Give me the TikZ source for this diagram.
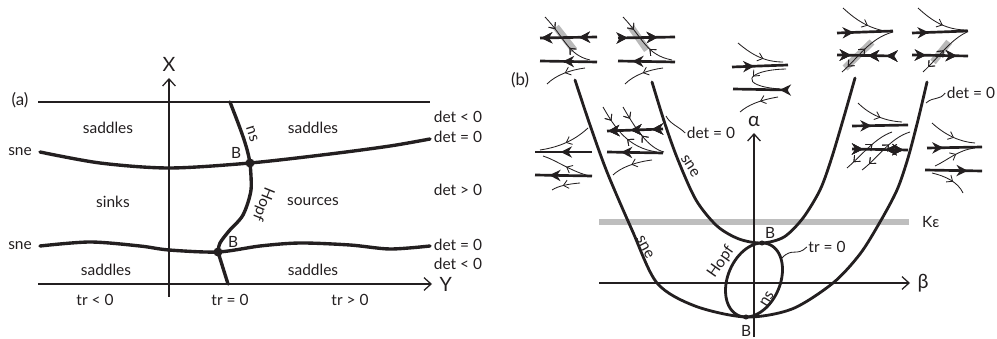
\documentclass[tikz,border=0pt]{standalone}
\usepackage{fontspec}
\setmainfont{Lato}
\usetikzlibrary{arrows.meta,decorations.markings}
\definecolor{cInk}{RGB}{35,31,32}
\definecolor{cBand}{RGB}{190,190,190}
\definecolor{cHalo}{RGB}{185,185,185}
\tikzset{
  lbl/.style={font=\fontsize{11}{13}\selectfont, text=cInk, inner sep=1pt},
  big/.style={font=\fontsize{14}{16}\selectfont, text=cInk, inner sep=1pt},
  ax/.style={line width=0.9pt, draw=cInk},
  axarr/.style={ax, -{Straight Barb[length=5pt,width=9pt]}},
  crv/.style={line width=2.4pt, draw=cInk, line cap=round},
  crvb/.style={line width=2pt, draw=cInk, line cap=round},
  flw/.style={line width=1.9pt, draw=cInk},
  trj/.style={line width=0.6pt, draw=cInk},
  halo/.style={line width=5pt, draw=cHalo},
  fa/.style={postaction={decorate},decoration={markings,mark=at position #1 with {\arrow{Stealth[length=8pt,width=8pt,inset=2.5pt]}}}},
  fb/.style={postaction={decorate},decoration={markings,mark=at position #1 with {\arrowreversed{Stealth[length=8pt,width=8pt,inset=2.5pt]}}}},
  ta/.style={postaction={decorate},decoration={markings,mark=at position #1 with {\arrow{Straight Barb[length=3.5pt,width=6pt]}}}},
  tb/.style={postaction={decorate},decoration={markings,mark=at position #1 with {\arrowreversed{Straight Barb[length=3.5pt,width=6pt]}}}},
}
\begin{document}
\begin{tikzpicture}[x=0.025cm, y=-0.025cm]
  \useasboundingbox (0,0) rectangle (997,339);
  %%% (a)
  \node[lbl, font=\fontsize{12}{14}\selectfont] (tagA) at (20,100) {(a)};
  % Axes
  \draw[ax] (38,102) -- (430,102);
  \draw[axarr] (38,284) -- (432,284) node[big, right=4pt] (Ylab) {Y};
  \draw[axarr] (169,297) -- (169,78) node[big, above=3pt] (Xlab) {X};
  % Bifurcation curves
  \coordinate (B1) at (250,163);
  \coordinate (B2) at (218,252);
  \draw[crv] plot[smooth] coordinates {(40,152) (100,163) (169,168) (B1) (330,154) (390,146) (430,139)};
  \draw[crv] plot[smooth] coordinates {(40,246) (90,242) (140,246) (169,250) (B2) (260,246) (300,243) (350,245) (390,249) (430,246)};
  \draw[crv] (230,102) .. controls (240,128) and (247,145) .. (B1);
  \draw[crv] plot[smooth] coordinates {(B1) (251,190) (243,215) (229,231) (220,243) (B2)};
  \draw[crv] (B2) -- (228,284);
  \fill[cInk] (B1) circle[radius=3.2pt];
  \fill[cInk] (B2) circle[radius=3.2pt];
  % Labels
  \node[lbl] (sneA1) at (20,152) {sne};
  \node[lbl] (sneA2) at (20,246) {sne};
  \node[lbl] (bA1) at (236,153) {B};
  \node[lbl] (bA2) at (233,242) {B};
  \node[lbl, rotate=-72] (nsA) at (252,134) {ns};
  \node[lbl, rotate=-112] (hopfA) at (263,204) {Hopf};
  \node[lbl] (sad1) at (108,128) {saddles};
  \node[lbl] (sad2) at (313,128) {saddles};
  \node[lbl] (sinks) at (113,202) {sinks};
  \node[lbl] (sources) at (313,202) {sources};
  \node[lbl] (sad3) at (106,270) {saddles};
  \node[lbl] (sad4) at (313,270) {saddles};
  \node[lbl] (trneg) at (95,300) {tr < 0};
  \node[lbl] (trzero) at (230,300) {tr = 0};
  \node[lbl] (trpos) at (350,300) {tr > 0};
  \node[lbl] (det1) at (458,117) {det < 0};
  \node[lbl] (det2) at (458,137) {det = 0};
  \node[lbl] (det3) at (458,190) {det > 0};
  \node[lbl] (det4) at (458,245) {det = 0};
  \node[lbl] (det5) at (458,264) {det < 0};

  %%% (b)
  \node[lbl, font=\fontsize{12}{14}\selectfont] (tagB) at (520,80) {(b)};
  % K epsilon band
  \draw[line width=4.5pt, cBand] (599,222) -- (909,222) node[lbl, right=6pt] (keps) {Kε};
  % Axes
  \draw[axarr] (599,283) -- (910,283) node[big, right=4pt] (betalab) {β};
  \draw[axarr] (754,337) -- (754,133) node[big, above=3pt] (alphalab) {α};
  % sne parabolas and tr = 0 loop
  \coordinate (Bt) at (762,243);
  \coordinate (Bb) at (746,317);
  \draw[crvb] plot[smooth] coordinates {(575,80) (590,125) (607,172) (632,230) (657,283) (695,306) (Bb) (792,309) (833,283) (860,254) (880,222) (897,190) (908,158) (918,120) (927,82)};
  \draw[crvb] plot[smooth] coordinates {(652,82) (665,124) (678,160) (696,200) (717,226) (739,239) (Bt) (784,237) (803,218) (820,190) (831,160) (843,120) (855,78)};
  \draw[crvb] plot[domain=0:360, samples=72, smooth] ({754+28.5*cos(\x)}, {280-10.5*cos(\x)+35.5*sin(\x)});
  \fill[cInk] (Bt) circle[radius=1.8pt];
  \fill[cInk] (Bb) circle[radius=1.8pt];
  % Labels
  \node[lbl] (bB1) at (770,233) {B};
  \node[lbl] (bB2) at (746,331) {B};
  \node[lbl, rotate=-62] (sneB1) at (645,247) {sne};
  \node[lbl, rotate=-58] (sneB2) at (690,166) {sne};
  \node[lbl, rotate=55] (hopfB) at (721,262) {Hopf};
  \node[lbl, rotate=58] (nsB) at (767,299) {ns};
  \node[lbl] (trB) at (827,247) {tr = 0};
  \node[lbl] (detB1) at (711,133) {det = 0};
  \node[lbl] (detB2) at (971,93) {det = 0};
  \coordinate (trpt) at (782,258);
  \coordinate (innpt) at (666,116);
  \coordinate (outpt) at (926,103);
  \draw[trj] (trpt) .. controls (792,247) and (797,257) .. (trB.west);
  \draw[trj] (innpt) .. controls (670,124) and (678,126) .. (detB1.west);
  \draw[trj] (outpt) .. controls (934,96) and (939,101) .. (detB2.west);

  % Phase portraits, top left pair
  \draw[halo] (556,27) -- (574,50);
  \draw[flw,fb=0.02,fb=0.68] (540,38) -- (597,37);
  \draw[flw,fb=0.4] (540,61) -- (597,62);
  \draw[trj,ta=0.25,tb=0.62] (545,17) .. controls (565,38) and (568,55) .. (590,60);
  \draw[trj,ta=0.5] (585,68) .. controls (570,70) and (556,75) .. (547,84);
  \draw[halo] (631,27) -- (647,50);
  \draw[flw,fa=0.17,fa=0.7] (618,38) -- (675,37);
  \draw[flw,fb=0.25] (618,61) -- (675,62);
  \draw[trj,ta=0.25,tb=0.62] (623,17) .. controls (643,38) and (646,55) .. (672,60);
  \draw[trj,ta=0.5] (663,68) .. controls (648,70) and (634,75) .. (625,84);
  % left of the outer branch
  \draw[trj,ta=0.5] (588,128) .. controls (575,140) and (560,147) .. (540,150);
  \draw[flw,fb=0.45] (535,152) -- (592,152);
  \draw[trj,ta=0.5] (590,176) .. controls (572,172) and (556,160) .. (543,156);
  \draw[flw,fb=0.25] (535,175) -- (592,176);
  \draw[trj,ta=0.6] (580,183) .. controls (568,184) and (558,186) .. (552,190);
  % between the left branches
  \draw[flw,fb=0.02,fb=0.42,fb=0.8] (607,131) -- (663,129);
  \draw[trj,ta=0.22,tb=0.55] (603,107) .. controls (615,128) and (628,148) .. (657,152);
  \draw[trj,ta=0.22,tb=0.55] (623,107) .. controls (635,128) and (648,148) .. (664,152);
  \draw[flw,fb=0.25] (607,152) -- (663,153);
  \draw[trj,ta=0.5] (652,160) .. controls (635,162) and (620,168) .. (613,175);
  % centre
  \draw[trj,ta=0.6] (738,43) .. controls (752,55) and (765,62) .. (783,62);
  \draw[flw,fa=0.4] (732,67) -- (788,65);
  \draw[trj,ta=0.5] (786,69) .. controls (745,70) and (738,86) .. (780,89);
  \draw[flw,fb=0.85] (733,89) -- (788,90);
  \draw[trj,ta=0.45] (778,97) .. controls (760,100) and (748,105) .. (740,112);
  % top right pair
  \draw[halo] (845,68) -- (872,42);
  \draw[trj,ta=0.55] (843,8) .. controls (858,22) and (872,30) .. (892,32);
  \draw[flw,fa=0.3] (837,33) -- (893,31);
  \draw[flw,fa=0.25,fb=0.55,fb=0.88] (837,55) -- (893,56);
  \draw[trj,tb=0.12,ta=0.5] (842,72) .. controls (858,58) and (870,38) .. (893,32);
  \draw[halo] (933,62) -- (949,42);
  \draw[trj,ta=0.55] (918,8) .. controls (933,22) and (947,30) .. (967,30);
  \draw[flw,fa=0.3] (912,33) -- (968,31);
  \draw[flw,fa=0.25,fa=0.8] (912,55) -- (968,56);
  \draw[trj,tb=0.12,ta=0.5] (923,72) .. controls (938,58) and (950,40) .. (967,32);
  % between the right branches
  \draw[trj,ta=0.55] (858,103) .. controls (870,115) and (885,121) .. (902,122);
  \draw[flw,fa=0.35] (852,126) -- (908,125);
  \draw[flw,fa=0.2,fb=0.6,fa=0.92] (852,149) -- (908,150);
  \draw[trj,tb=0.15,ta=0.6] (847,168) .. controls (862,155) and (875,138) .. (892,132);
  \draw[trj,tb=0.15,ta=0.6] (862,170) .. controls (878,158) and (890,138) .. (910,132);
  % right of the outer branch
  \draw[trj,ta=0.55] (932,123) .. controls (945,135) and (960,142) .. (975,143);
  \draw[flw,fa=0.3] (927,148) -- (982,147);
  \draw[trj,ta=0.55] (935,166) .. controls (948,160) and (958,150) .. (975,148);
  \draw[flw,fa=0.75] (925,170) -- (982,171);
  \draw[trj,ta=0.6] (932,173) .. controls (945,176) and (958,182) .. (963,193);
\end{tikzpicture}
\end{document}
